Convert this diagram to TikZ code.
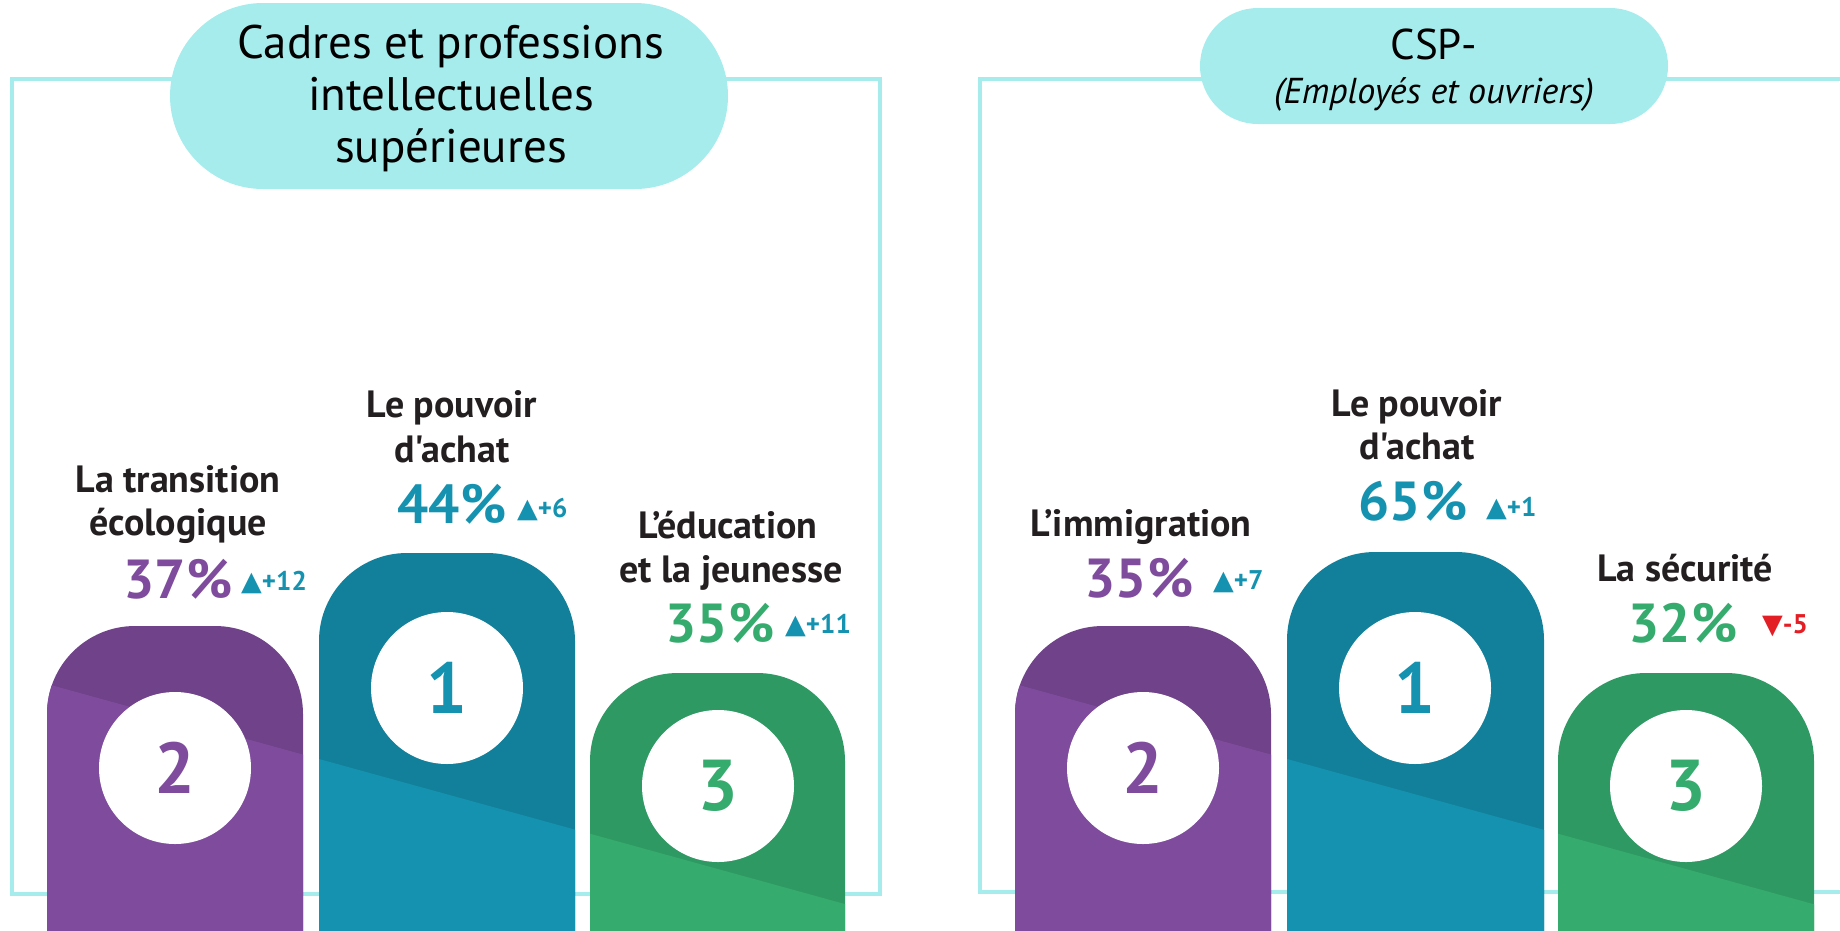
\documentclass[tikz,border=0pt]{standalone}
\usepackage{fontspec}
\setmainfont{PT Sans}[Ligatures=TeXOff]
\newfontfamily\symfont{DejaVu Sans}
\definecolor{cyanpale}{HTML}{A6ECEC}
\definecolor{ink}{HTML}{231F20}
\definecolor{purpledark}{HTML}{6F4289}
\definecolor{purplelight}{HTML}{7F4C9D}
\definecolor{bluedark}{HTML}{12809A}
\definecolor{bluelight}{HTML}{1592AF}
\definecolor{greendark}{HTML}{2F9963}
\definecolor{greenlight}{HTML}{36AB6E}
\definecolor{downred}{HTML}{E31E25}
\newcommand\upmark{{\symfont\fontsize{27}{27}\selectfont ▲}}
\newcommand\downmark{{\symfont\fontsize{27}{27}\selectfont ▼}}
\begin{document}
\begin{tikzpicture}[x=1pt, y=-1pt,
  frame/.style={draw=cyanpale, line width=4pt},
  pill/.style={fill=cyanpale},
  bar/.style 2 args={fill=#1, rounded corners=88pt,
    path picture={\fill[#2, sharp corners] (0,671) -- (910,922) -- (910,655) -- (1900,928) -- (1900,1000) -- (0,1000) -- cycle;}},
  disc/.style={circle, fill=white, minimum size=152pt, inner sep=0, font=\fontsize{72}{72}\selectfont\bfseries},
  title/.style={inner sep=0, anchor=base, text=black, font=\fontsize{47}{52}\selectfont},
  lab/.style={inner sep=0, anchor=base, text=ink, font=\fontsize{38}{44}\selectfont\bfseries},
  pct/.style={inner sep=0, anchor=base, font=\fontsize{55}{55}\selectfont\bfseries},
  delta/.style={inner sep=0, anchor=base west, font=\fontsize{27}{27}\selectfont\bfseries}]
\useasboundingbox (0,0) rectangle (1840,930);

% frames
\draw[frame] (12,79) rectangle (880,894);
\draw[frame] (1860,79) -- (980,79) -- (980,892) -- (1860,892);

% headers
\fill[pill, rounded corners=93pt] (170,3) rectangle (728,189);
\node[title] (cad1) at (451,58) {Cadres et professions};
\node[title] (cad2) at (451,110) {intellectuelles};
\node[title] (cad3) at (451,162) {supérieures};
\fill[pill, rounded corners=58pt] (1200,8) rectangle (1668,124);
\node[title, font=\fontsize{43}{43}\selectfont] (csp) at (1434,59) {CSP-};
\node[title, font=\fontsize{36}{36}\selectfont\itshape] (cspsub) at (1434,103) {(Employés et ouvriers)};

% podium, left
\fill[bar={purpledark}{purplelight}] (47,940) -- (47,626) -- (303,626) -- (303,940);
\fill[bar={bluedark}{bluelight}] (319,940) -- (319,553) -- (575,553) -- (575,940);
\fill[bar={greendark}{greenlight}] (590,940) -- (590,673) -- (845,673) -- (845,940);
\node[disc, text=purplelight] (a2) at (175,768) {2};
\node[disc, text=bluelight] (a1) at (447,688) {1};
\node[disc, text=greenlight] (a3) at (718,786) {3};

% podium, right
\fill[bar={purpledark}{purplelight}] (1015,940) -- (1015,626) -- (1271,626) -- (1271,940);
\fill[bar={bluedark}{bluelight}] (1287,940) -- (1287,552) -- (1544,552) -- (1544,940);
\fill[bar={greendark}{greenlight}] (1558,940) -- (1558,673) -- (1814,673) -- (1814,940);
\node[disc, text=purplelight] (b2) at (1143,768) {2};
\node[disc, text=bluelight] (b1) at (1415,688) {1};
\node[disc, text=greenlight] (b3) at (1686,786) {3};

% labels, left
\node[lab] (la2a) at (178,492) {La transition};
\node[lab] (la2b) at (178,535) {écologique};
\node[pct, text=purplelight] (pa2) at (178,598) {37\%};
\node[delta, text=bluelight] (da2) at (241,590) {\upmark+12};
\node[lab] (la1a) at (452,417) {Le pouvoir};
\node[lab] (la1b) at (452,462) {d'achat};
\node[pct, text=bluelight] (pa1) at (452,523) {44\%};
\node[delta, text=bluelight] (da1) at (517,517) {\upmark+6};
\node[lab] (la3a) at (728,538) {L’éducation};
\node[lab] (la3b) at (731,582) {et la jeunesse};
\node[pct, text=greenlight] (pa3) at (720,642) {35\%};
\node[delta, text=bluelight] (da3) at (785,633) {\upmark+11};

% labels, right
\node[lab] (lb1a) at (1417,416) {Le pouvoir};
\node[lab] (lb1b) at (1417,459) {d'achat};
\node[pct, text=bluelight] (pb1) at (1413,520) {65\%};
\node[delta, text=bluelight] (db1) at (1486,516) {\upmark+1};
\node[lab] (lb2) at (1141,536) {L’immigration};
\node[pct, text=purplelight] (pb2) at (1139,597) {35\%};
\node[delta, text=bluelight] (db2) at (1213,589) {\upmark+7};
\node[lab] (lb3) at (1685,581) {La sécurité};
\node[pct, text=greenlight] (pb3) at (1683,642) {32\%};
\node[delta, text=downred] (db3) at (1762,633) {\downmark-5};
\end{tikzpicture}
\end{document}
